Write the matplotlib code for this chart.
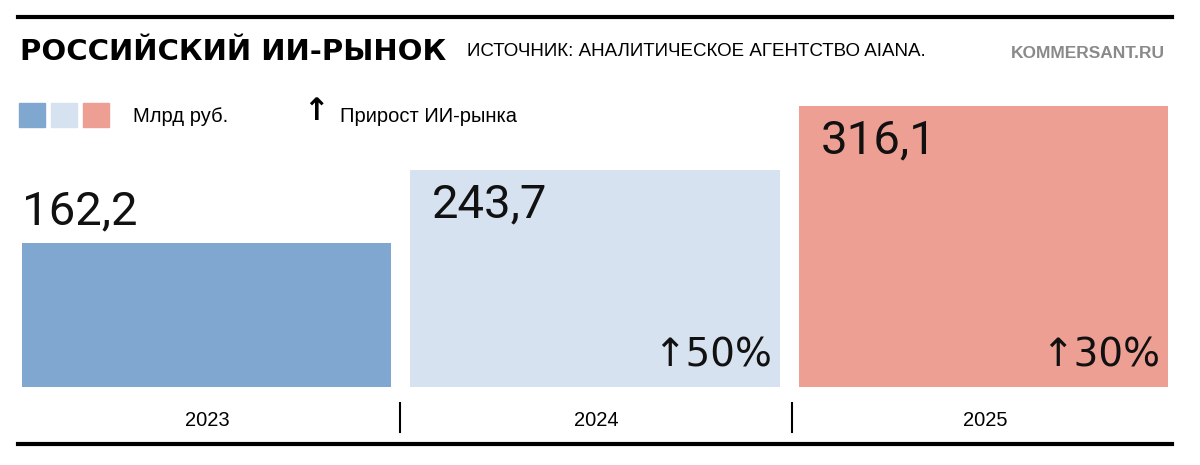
import matplotlib.pyplot as plt
from matplotlib.lines import Line2D

years = ['2023', '2024', '2025']
values = [162.2, 243.7, 316.1]
labels = ['162,2', '243,7', '316,1']
growth = ['', '50%', '30%']
colors = ['#80a7cf', '#d6e2ef', '#ee9f94']

fig = plt.figure(figsize=(12, 4.65), dpi=100)
W, H = 1200, 465

def fx(x): return x / W
def fy(y): return 1 - y / H

# chart axes: bars from x=22..1168px, baseline at y=387px
ax = fig.add_axes([fx(22), fy(387), fx(1146), (387 - 97) / H])
ax.set_xlim(-0.475, 2.475)
ax.set_ylim(0, 290 * 316.1 / 281)
ax.axis('off')
ax.bar(range(3), values, width=0.95, color=colors)
for i, (v, lab, g) in enumerate(zip(values, labels, growth)):
    if i == 0:
        # short bar: label sits above it
        ax.text(i - 0.475, v + 11, lab, fontsize=34, family='Roboto',
                va='bottom', ha='left', color='#111')
    else:
        ax.text(i - 0.42, v - 14, lab, fontsize=34, family='Roboto',
                va='top', ha='left', color='#111')
    if g:
        ax.text(i + 0.455, 14, '\u2191' + g, fontsize=28, family='DejaVu Sans', va='bottom', ha='right',
                color='#111')

# header
fig.add_artist(Line2D([fx(18), fx(1172)], [fy(17), fy(17)], color='black', lw=3))
fig.add_artist(Line2D([fx(18), fx(1172)], [fy(444), fy(444)], color='black', lw=3))
fig.text(fx(20), fy(52), 'РОССИЙСКИЙ ИИ-РЫНОК', fontsize=21, fontweight='heavy', family='DejaVu Sans', va='center')
fig.text(fx(467), fy(52), 'ИСТОЧНИК: АНАЛИТИЧЕСКОЕ АГЕНТСТВО AIANA.', fontsize=13.5, family='Liberation Sans', va='center')
fig.text(fx(1165), fy(54), 'KOMMERSANT.RU', fontsize=12.5, fontweight='bold', family='Liberation Sans',
         color='#8a8a8a', va='center', ha='right')

# legend
for k, c in enumerate(colors):
    fig.patches.append(plt.Rectangle((fx(19 + k * 32), fy(127)), fx(26), 24 / H, color=c, transform=fig.transFigure))
fig.text(fx(133), fy(116), 'Млрд руб.', fontsize=14.5, family='Liberation Sans', va='center')
fig.text(fx(303), fy(112), '\u2191', fontsize=22, family='DejaVu Sans', va='center', fontweight='bold')
fig.text(fx(340), fy(116), 'Прирост ИИ-рынка', fontsize=14.5, family='Liberation Sans', va='center')

# year labels and dividers
for i, y in enumerate(years):
    fig.text(fx(22 + 185 + i * 389), fy(420), y, fontsize=14.5, family='Liberation Sans', ha='center', va='center')
for x in (400, 792):
    fig.add_artist(Line2D([fx(x), fx(x)], [fy(403), fy(432)], color='black', lw=1.5))

fig.savefig('out.png', dpi=100)
